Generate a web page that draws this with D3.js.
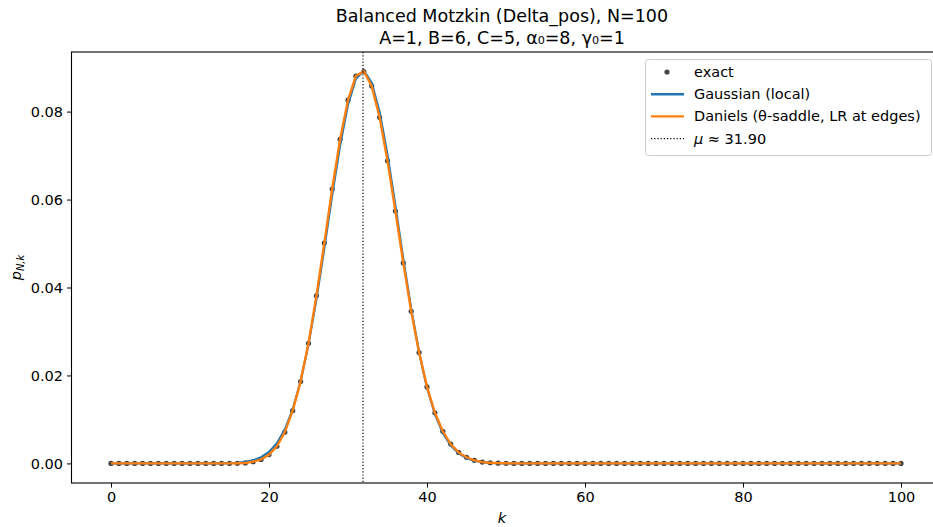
<!DOCTYPE html>
<html>
<head>
<meta charset="utf-8">
<script src="https://cdn.jsdelivr.net/npm/d3@7"></script>
<style>
  body { margin: 0; background: #fff; }
  text { font-family: "DejaVu Sans", sans-serif; fill: #000; }
  .tick text { font-size: 14.5px; }
</style>
</head>
<body>
<div id="chart"></div>
<script>
// k = 0..100
const ks = d3.range(0, 101);

// exact distribution
const exact = [
  0,0,0,0,0,0,0,0,0,0,
  0,0,0,0,0,0,0.00003,0.0001,0.0004,0.0009,
  0.0020,0.0039,0.0071,0.0120,0.0186,0.0273,0.0381,0.0501,0.0624,0.0737,
  0.0826,0.0881,0.0891,0.0858,0.0787,0.0688,0.0574,0.0456,0.0346,0.0252,
  0.0174,0.0115,0.0073,0.0044,0.0025,0.0014,0.0007,0.0003,0.00015,0.00006,
  0.00002,0,0,0,0,0,0,0,0,0,
  0,0,0,0,0,0,0,0,0,0,
  0,0,0,0,0,0,0,0,0,0,
  0,0,0,0,0,0,0,0,0,0,
  0,0,0,0,0,0,0,0,0,0,
  0
];

// Gaussian (local) approximation
const gaussian = [
  0,0,0,0,0,0,0,0,0,0,
  0,0,0,0,0,0.00006,0.00015,0.00034,0.0007,0.0014,
  0.0026,0.0046,0.0077,0.0123,0.0187,0.0271,0.0373,0.0489,0.0610,0.0723,
  0.0816,0.0875,0.0893,0.0866,0.0799,0.0702,0.0586,0.0465,0.0352,0.0253,
  0.0172,0.0112,0.0069,0.0041,0.0023,0.0012,0.0006,0.0003,0.00013,0.00005,
  0.00002,0,0,0,0,0,0,0,0,0,
  0,0,0,0,0,0,0,0,0,0,
  0,0,0,0,0,0,0,0,0,0,
  0,0,0,0,0,0,0,0,0,0,
  0,0,0,0,0,0,0,0,0,0,
  0
];

// Daniels (theta-saddle, LR at edges)
const daniels = [
  0,0,0,0,0,0,0,0,0,0,
  0,0,0,0,0,0,0.00003,0.0001,0.0004,0.0009,
  0.0020,0.0039,0.0071,0.0120,0.0186,0.0273,0.0381,0.0501,0.0624,0.0737,
  0.0826,0.0881,0.0892,0.0858,0.0787,0.0688,0.0574,0.0456,0.0346,0.0252,
  0.0174,0.0115,0.0073,0.0044,0.0025,0.0014,0.0007,0.0003,0.00015,0.00006,
  0.00002,0,0,0,0,0,0,0,0,0,
  0,0,0,0,0,0,0,0,0,0,
  0,0,0,0,0,0,0,0,0,0,
  0,0,0,0,0,0,0,0,0,0,
  0,0,0,0,0,0,0,0,0,0,
  0
];

const mu = 31.90;
const xTicks = [0, 20, 40, 60, 80, 100];
const yTicks = [0, 0.02, 0.04, 0.06, 0.08];

const W = 933, H = 527;
const margin = {left: 71.5, right: 940.5, top: 52, bottom: 483};

const svg = d3.select("#chart")
  .append("svg")
    .attr("width", W)
    .attr("height", H);

const x = d3.scaleLinear()
  .domain([-5, 105])
  .range([margin.left, margin.right]);

const ymax = d3.max(exact);
const y = d3.scaleLinear()
  .domain([-0.05 * ymax, ymax * 1.05])
  .range([margin.bottom, margin.top]);

// axes
svg.append("g")
  .attr("transform", `translate(0, ${margin.bottom})`)
  .call(d3.axisBottom(x)
    .tickValues(xTicks)
    .tickSizeInner(4.5)
    .tickSizeOuter(0)
    .tickPadding(4)
    .tickFormat(d3.format("d")));

svg.append("g")
  .attr("transform", `translate(${margin.left}, 0)`)
  .call(d3.axisLeft(y)
    .tickValues(yTicks)
    .tickSizeInner(4.5)
    .tickSizeOuter(0)
    .tickPadding(4)
    .tickFormat(d3.format(".2f")));

svg.selectAll(".domain").remove();
svg.selectAll(".tick line").attr("stroke", "#000").attr("stroke-width", 1);

// frame
svg.append("rect")
  .attr("x", margin.left)
  .attr("y", margin.top)
  .attr("width", margin.right - margin.left)
  .attr("height", margin.bottom - margin.top)
  .attr("fill", "none")
  .attr("stroke", "#000")
  .attr("stroke-width", 1.1);

const line = d3.line()
  .x((d, i) => x(ks[i]))
  .y(d => y(d));

// exact points
svg.append("g")
  .selectAll("circle")
  .data(exact)
  .join("circle")
    .attr("cx", (d, i) => x(ks[i]))
    .attr("cy", d => y(d))
    .attr("r", 2.6)
    .attr("fill", "#444");

svg.append("path")
  .datum(gaussian)
  .attr("fill", "none")
  .attr("stroke", "#1f77b4")
  .attr("stroke-width", 2.2)
  .attr("stroke-linejoin", "round")
  .attr("d", line);

svg.append("path")
  .datum(daniels)
  .attr("fill", "none")
  .attr("stroke", "#ff7f0e")
  .attr("stroke-width", 2.4)
  .attr("stroke-linejoin", "round")
  .attr("d", line);

// mean line
svg.append("line")
  .attr("x1", x(mu)).attr("x2", x(mu))
  .attr("y1", margin.top).attr("y2", margin.bottom)
  .attr("stroke", "#000")
  .attr("stroke-width", 1.2)
  .attr("stroke-dasharray", "1.2,2");

// titles
const cx = (margin.left + margin.right) / 2 - 4;
svg.append("text")
  .attr("x", cx)
  .attr("y", 22)
  .attr("text-anchor", "middle")
  .style("font-size", "17.5px")
  .text("Balanced Motzkin (Delta_pos), N=100");

svg.append("text")
  .attr("x", cx)
  .attr("y", 44)
  .attr("text-anchor", "middle")
  .style("font-size", "17.5px")
  .text("A=1, B=6, C=5, α₀=8, γ₀=1");

// axis labels
svg.append("text")
  .attr("x", cx)
  .attr("y", 523)
  .attr("text-anchor", "middle")
  .style("font-size", "14.5px")
  .style("font-style", "italic")
  .text("k");

const yl = svg.append("text")
  .attr("transform", `translate(21, ${(margin.top + margin.bottom) / 2}) rotate(-90)`)
  .attr("text-anchor", "middle")
  .style("font-size", "14.5px")
  .style("font-style", "italic");
yl.append("tspan").text("p");
yl.append("tspan")
  .attr("dy", 3)
  .style("font-size", "10px")
  .text("N,k");

// legend
const lg = svg.append("g");
lg.append("rect")
  .attr("x", 645.5).attr("y", 59.5)
  .attr("width", 286).attr("height", 96)
  .attr("rx", 3)
  .attr("fill", "#fff").attr("fill-opacity", 0.8)
  .attr("stroke", "#cccccc").attr("stroke-width", 1);

const items = [
  {label: "exact", kind: "dot"},
  {label: "Gaussian (local)", kind: "line", color: "#1f77b4"},
  {label: "Daniels (θ-saddle, LR at edges)", kind: "line", color: "#ff7f0e"},
  {label: "mu", kind: "dotted"}
];

items.forEach((it, i) => {
  const cy = 72 + i * 22.2;
  if (it.kind === "dot") {
    lg.append("circle").attr("cx", 667).attr("cy", cy).attr("r", 2.6).attr("fill", "#444");
  } else if (it.kind === "line") {
    lg.append("line").attr("x1", 651).attr("x2", 684).attr("y1", cy).attr("y2", cy)
      .attr("stroke", it.color).attr("stroke-width", 2.4);
  } else {
    lg.append("line").attr("x1", 651).attr("x2", 684).attr("y1", cy).attr("y2", cy)
      .attr("stroke", "#000").attr("stroke-width", 1.2).attr("stroke-dasharray", "1.2,2");
  }
  const t = lg.append("text")
    .attr("x", 694).attr("y", cy + 5)
    .style("font-size", "14.5px");
  if (it.label === "mu") {
    t.append("tspan").style("font-style", "italic").text("μ");
    t.append("tspan").text(" ≈ " + mu.toFixed(2));
  } else {
    t.text(it.label);
  }
});
</script>
</body>
</html>
